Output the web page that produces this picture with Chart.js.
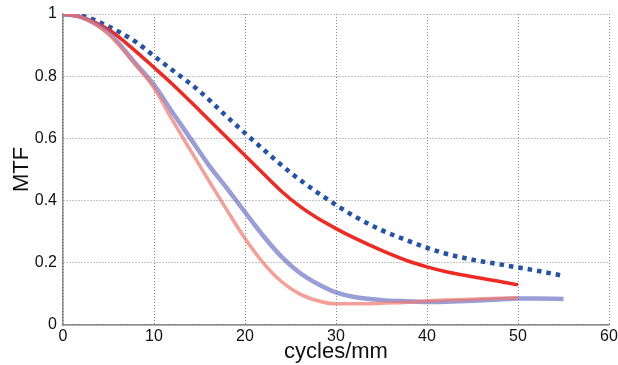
<!DOCTYPE html>
<html>
<head>
<meta charset="utf-8">
<script src="https://cdn.jsdelivr.net/npm/chart.js@4/dist/chart.umd.min.js"></script>
<style>
html,body{margin:0;padding:0;background:#fff;}
#wrap{width:618px;height:365px;position:relative;}
</style>
</head>
<body>
<div id="wrap"><canvas id="c" width="618" height="365"></canvas></div>
<script>
const xTicks = [0, 10, 20, 30, 40, 50, 60];
const yTicks = [0, 0.2, 0.4, 0.6, 0.8, 1];

const blueDotX = [0, 2, 5, 8, 10, 12, 15, 18, 20, 22, 25, 28, 30, 32, 35, 38, 40, 42, 45, 48, 50, 52, 55];
const blueDotY = [1.0, 0.995, 0.96, 0.91, 0.865, 0.82, 0.752, 0.67, 0.617, 0.565, 0.49, 0.425, 0.386, 0.35, 0.305, 0.27, 0.248, 0.23, 0.21, 0.195, 0.185, 0.175, 0.158];

const redSolidX = [0, 2, 5, 8, 10, 12, 15, 18, 20, 22, 24, 26, 28, 30, 32, 35, 38, 40, 42, 45, 48, 50];
const redSolidY = [1.0, 0.99, 0.95, 0.88, 0.828, 0.775, 0.69, 0.603, 0.545, 0.487, 0.43, 0.382, 0.343, 0.31, 0.28, 0.24, 0.205, 0.187, 0.172, 0.155, 0.14, 0.129];

const blueLightX = [0, 2, 5, 8, 10, 12, 14, 16, 18, 20, 22, 24, 26, 28, 30, 32, 35, 38, 40, 42, 45, 48, 50, 52, 55];
const blueLightY = [1.0, 0.99, 0.94, 0.84, 0.772, 0.685, 0.6, 0.515, 0.44, 0.363, 0.287, 0.22, 0.168, 0.132, 0.105, 0.09, 0.08, 0.076, 0.074, 0.075, 0.078, 0.082, 0.085, 0.085, 0.084];

const redLightX = [0, 2, 5, 8, 10, 12, 14, 16, 18, 20, 22, 24, 26, 28, 30, 32, 35, 38, 40, 42, 45, 48, 50];
const redLightY = [1.0, 0.99, 0.935, 0.835, 0.762, 0.66, 0.562, 0.465, 0.37, 0.278, 0.2, 0.14, 0.1, 0.078, 0.068, 0.068, 0.07, 0.073, 0.077, 0.08, 0.083, 0.086, 0.087];

function pts(xs, ys) { return xs.map((x, i) => ({x: x, y: ys[i]})); }

const FONT = "'Liberation Sans', Arial, Helvetica, sans-serif";

new Chart(document.getElementById('c'), {
  type: 'line',
  data: {
    datasets: [
      {
        data: pts(redLightX, redLightY),
        borderColor: 'rgba(240,120,110,0.7)',
        borderWidth: 3.5,
        pointRadius: 0,
        cubicInterpolationMode: 'monotone',
        fill: false
      },
      {
        data: pts(blueLightX, blueLightY),
        borderColor: 'rgba(110,115,200,0.7)',
        borderWidth: 4.5,
        pointRadius: 0,
        cubicInterpolationMode: 'monotone',
        fill: false
      },
      {
        data: pts(redSolidX, redSolidY),
        borderColor: '#ee2a22',
        borderWidth: 3.5,
        pointRadius: 0,
        cubicInterpolationMode: 'monotone',
        fill: false
      },
      {
        data: pts(blueDotX, blueDotY),
        borderColor: '#2452a8',
        borderWidth: 4.5,
        borderDash: [4.5, 5],
        borderCapStyle: 'butt',
        pointRadius: 0,
        cubicInterpolationMode: 'monotone',
        fill: false
      }
    ]
  },
  options: {
    responsive: false,
    animation: false,
    events: [],
    layout: { padding: { left: 0, right: 9, top: 14, bottom: 0 } },
    plugins: { legend: { display: false }, tooltip: { enabled: false } },
    scales: {
      x: {
        type: 'linear',
        min: 0, max: 60,
        afterBuildTicks: (s) => { s.ticks = xTicks.map(v => ({value: v})); },
        afterFit: (s) => { s.height = 40; s.paddingRight = 0; s.paddingLeft = 0; },
        ticks: { color: '#111', font: { family: FONT, size: 16 }, padding: 2, maxRotation: 0, autoSkip: false },
        grid: { color: '#8a8a8a', lineWidth: 1, drawTicks: false },
        border: { display: true, color: '#8a8a8a', width: 1.5, dash: [1, 2] },
        title: { display: true, text: 'cycles/mm', color: '#111', font: { family: FONT, size: 22 }, padding: { top: -4, bottom: 0 } }
      },
      y: {
        type: 'linear',
        min: 0, max: 1,
        afterBuildTicks: (s) => { s.ticks = yTicks.map(v => ({value: v})); },
        afterFit: (s) => { s.width = 63; s.paddingTop = 0; s.paddingBottom = 0; },
        ticks: { color: '#111', font: { family: FONT, size: 16 }, padding: 6, callback: (v) => String(v) },
        grid: { color: '#8a8a8a', lineWidth: 1, drawTicks: false },
        border: { display: true, color: '#8a8a8a', width: 1.5, dash: [1, 2] },
        title: { display: true, text: 'MTF', color: '#111', font: { family: FONT, size: 22 }, padding: { top: 9, bottom: 0 } }
      }
    }
  }
});
</script>
</body>
</html>
